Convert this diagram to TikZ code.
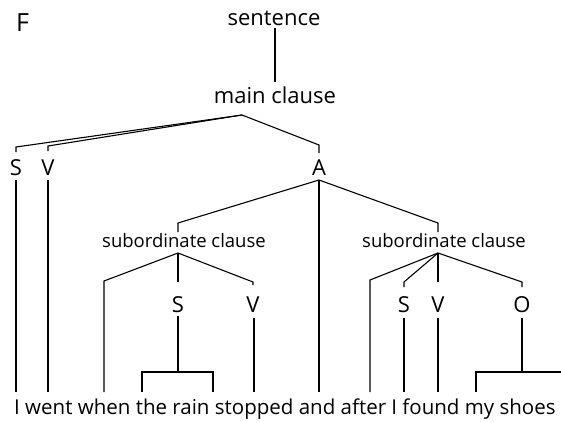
\documentclass[tikz,border=0pt]{standalone}
\usepackage{fontspec}
\setmainfont{Open Sans}
\begin{document}
\begin{tikzpicture}[x=1pt,y=-1pt,
  lbl/.style={inner sep=0pt, anchor=base},
  big/.style={font=\fontsize{22}{26}\selectfont},
  small/.style={font=\fontsize{18.5}{22}\selectfont},
  letter/.style={font=\fontsize{22}{26}\selectfont},
  words/.style={font=\fontsize{20.5}{24}\selectfont, inner sep=0pt, anchor=base west},
  branch/.style={line width=1.1pt, line join=miter, line cap=butt}]
\useasboundingbox (0,0) rectangle (561,421);
% labels
\node[lbl, anchor=base west, font=\fontsize{25}{30}\selectfont] (F) at (16,31) {F};
\node[lbl,big] (sent) at (274,25) {sentence};
\node[lbl,big] (main) at (275,103) {main clause};
\node[lbl,letter] (Sm) at (16,175) {S};
\node[lbl,letter] (Vm) at (48,175) {V};
\node[lbl,letter] (A) at (319,175) {A};
\node[lbl,small] (sub1) at (184,247) {subordinate clause};
\node[lbl,small] (sub2) at (444,247) {subordinate clause};
\node[lbl,letter] (S1) at (178,312) {S};
\node[lbl,letter] (V1) at (253,312) {V};
\node[lbl,letter] (S2) at (404,312) {S};
\node[lbl,letter] (V2) at (438,312) {V};
\node[lbl,letter] (O2) at (522,312) {O};
\node[words] (txt) at (14,414) {I went when the rain stopped and after I found my shoes};
% branching points
\coordinate (mcB) at ([xshift=-33pt,yshift=-12pt]main.base);
\coordinate (s1x) at ([xshift=-6pt]sub1.base);
\coordinate (s2x) at ([xshift=-6pt]sub2.base);
% sentence -> main clause
\draw[branch] (main |- 0,28) -- (main |- 0,82);
% main clause -> S V A
\draw[branch] (mcB) -- (Sm |- 0,147) -- (Sm |- 0,152);
\draw[branch] (mcB) -- (Vm |- 0,146) -- (Vm |- 0,151);
\draw[branch] (mcB) -- (A |- 0,145) -- (A |- 0,153);
% S, V of main clause down to words
\draw[branch] (Sm |- 0,180) -- (Sm |- 0,392);
\draw[branch] (Vm |- 0,180) -- (Vm |- 0,392);
% A -> subordinate clauses and "and"
\draw[branch] (A |- 0,180) -- (s1x |- 0,223) -- (s1x |- 0,232);
\draw[branch] (A |- 0,180) -- (s2x |- 0,223) -- (s2x |- 0,232);
\draw[branch] (A |- 0,180) -- (A |- 0,392);
% subordinate clause 1
\draw[branch] (s1x |- 0,253) -- (104,281) -- (104,392);
\draw[branch] (s1x |- 0,253) -- (S1 |- 0,282);
\draw[branch] (s1x |- 0,253) -- (V1 |- 0,282) -- (V1 |- 0,285);
\draw[branch] (S1 |- 0,316) -- (S1 |- 0,372);
\draw[branch] (142,392) -- (142,372) -- (213,372) -- (213,392);
\draw[branch] ([xshift=1pt]V1.base |- 0,318) -- ([xshift=1pt]V1.base |- 0,392);
% subordinate clause 2
\draw[branch] (s2x |- 0,253) -- (370,280) -- (370,392);
\draw[branch] (s2x |- 0,253) -- (S2 |- 0,282) -- (S2 |- 0,287);
\draw[branch] (s2x |- 0,253) -- (V2 |- 0,282);
\draw[branch] (s2x |- 0,253) -- (O2 |- 0,282) -- (O2 |- 0,287);
\draw[branch] (S2 |- 0,318) -- (S2 |- 0,392);
\draw[branch] (V2 |- 0,318) -- (V2 |- 0,392);
\draw[branch] (O2 |- 0,318) -- (O2 |- 0,372);
\draw[branch] (476,392) -- (476,372) -- (561,372);
\end{tikzpicture}
\end{document}
